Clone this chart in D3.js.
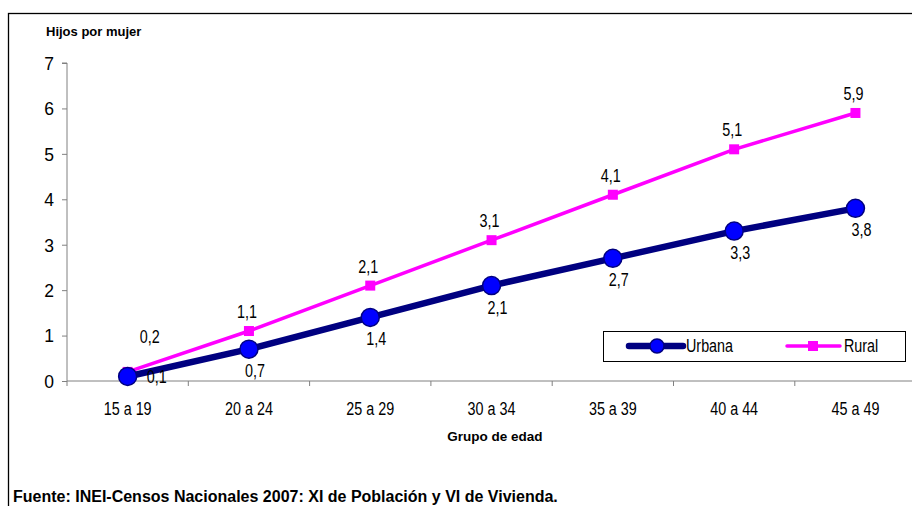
<!DOCTYPE html>
<html><head><meta charset="utf-8">
<script src="https://cdn.jsdelivr.net/npm/d3@7"></script>
<style>body{margin:0;background:#fff;}svg{display:block;font-family:"Liberation Sans",Arial,sans-serif;}</style>
</head><body>
<svg id="c" width="912" height="506"></svg>
<script>
const categories = ["15 a 19","20 a 24","25 a 29","30 a 34","35 a 39","40 a 44","45 a 49"];
const urbana = [0.1,0.7,1.4,2.1,2.7,3.3,3.8];
const rural = [0.2,1.1,2.1,3.1,4.1,5.1,5.9];
const yTicks = [0,1,2,3,4,5,6,7];
const fmt = v => String(v).replace(".", ",");
const NS = 0.82; // horizontal squeeze for narrow text

const svg = d3.select("#c");
svg.append("rect").attr("x",8.5).attr("y",13.5).attr("width",920).attr("height",520)
  .attr("fill","none").attr("stroke","#000").attr("stroke-width",1.3);

const left=67, bandW=121.3;
const x = d3.scaleBand().domain(categories).range([left,left+bandW*7]).paddingInner(0).paddingOuter(0);
const y = d3.scaleLinear().domain([0,7]).range([381,63]);

// y axis
const ya = svg.append("g").attr("transform",`translate(${left},0)`)
  .call(d3.axisLeft(y).tickValues(yTicks).tickSize(5).tickPadding(8).tickFormat(d=>d));
ya.attr("font-family",null);
ya.select(".domain").attr("stroke","#808080").attr("d",`M-5,${y(7)}H0V${y(0)}`);
ya.selectAll(".tick line").attr("stroke","#808080");
ya.selectAll("text").attr("font-size",17.5).attr("fill","#000").attr("dy","0.36em");

// x axis
const xa = svg.append("g").attr("transform",`translate(0,${y(0)})`)
  .call(d3.axisBottom(x).tickSize(0).tickPadding(0));
xa.attr("font-family",null);
xa.select(".domain").attr("stroke","#808080").attr("d",`M${left},0H${left+bandW*7}`);
xa.selectAll("text").attr("font-size",17.5).attr("fill","#000").attr("y",0).attr("dy",null)
  .attr("transform",`translate(0,34) scale(${NS},1)`);
xa.selectAll(".bt").data(d3.range(8)).enter().append("line").attr("class","bt")
  .attr("x1",i=>left+i*bandW).attr("x2",i=>left+i*bandW).attr("y1",0).attr("y2",5).attr("stroke","#808080");

const cx = d => x(d)+x.bandwidth()/2;

// lines
const line = d3.line().x((d,i)=>cx(categories[i])).y(d=>y(d));
svg.append("path").datum(rural).attr("d",line).attr("fill","none").attr("stroke","#FF00FF").attr("stroke-width",3.5);
svg.append("path").datum(urbana).attr("d",line).attr("fill","none").attr("stroke","#000080").attr("stroke-width",6.5).attr("stroke-linejoin","round");

svg.selectAll(".rm").data(rural).enter().append("rect")
  .attr("x",(d,i)=>cx(categories[i])-5).attr("y",d=>y(d)-5).attr("width",10).attr("height",10).attr("fill","#FF00FF");
svg.selectAll(".um").data(urbana).enter().append("circle")
  .attr("cx",(d,i)=>cx(categories[i])).attr("cy",d=>y(d)).attr("r",9)
  .attr("fill","#0000FF").attr("stroke","#000080").attr("stroke-width",1.5);

// labels
const lab = svg.append("g").attr("font-size",17.5).attr("fill","#000").attr("text-anchor","middle");
lab.selectAll(".rl").data(rural).enter().append("text")
  .attr("transform",(d,i)=>`translate(${i===0?cx(categories[i])+22:cx(categories[i])-2},${i===0?y(d)-29:y(d)-13}) scale(${NS},1)`)
  .text(d=>fmt(d));
lab.selectAll(".ul").data(urbana).enter().append("text")
  .attr("transform",(d,i)=>`translate(${i===0?cx(categories[i])+29:cx(categories[i])+6},${i===0?y(d)+7:y(d)+28}) scale(${NS},1)`)
  .text(d=>fmt(d));

// titles
svg.append("text").attr("x",46).attr("y",36).attr("font-size",13).attr("font-weight","bold").text("Hijos por mujer");
svg.append("text").attr("x",495).attr("y",441).attr("font-size",13.5).attr("font-weight","bold").attr("text-anchor","middle").text("Grupo de edad");
svg.append("text").attr("x",13).attr("y",502).attr("font-size",16).attr("font-weight","bold").text("Fuente: INEI-Censos Nacionales 2007: XI de Población y VI de Vivienda.");

// legend
const lg = svg.append("g");
lg.append("rect").attr("x",603.5).attr("y",331.5).attr("width",302).attr("height",30).attr("fill","#fff").attr("stroke","#000").attr("stroke-width",1);
lg.append("line").attr("x1",629).attr("x2",683).attr("y1",346).attr("y2",346).attr("stroke","#000080").attr("stroke-width",6.5).attr("stroke-linecap","round");
lg.append("circle").attr("cx",657).attr("cy",346).attr("r",7).attr("fill","#0000FF").attr("stroke","#000080").attr("stroke-width",1.5);
lg.append("text").attr("transform",`translate(686,352) scale(${NS},1)`).attr("font-size",17.5).text("Urbana");
lg.append("line").attr("x1",787).attr("x2",840).attr("y1",346).attr("y2",346).attr("stroke","#FF00FF").attr("stroke-width",3.5).attr("stroke-linecap","round");
lg.append("rect").attr("x",808).attr("y",341).attr("width",10).attr("height",10).attr("fill","#FF00FF");
lg.append("text").attr("transform",`translate(844,352) scale(${NS},1)`).attr("font-size",17.5).text("Rural");
</script>
</body></html>
